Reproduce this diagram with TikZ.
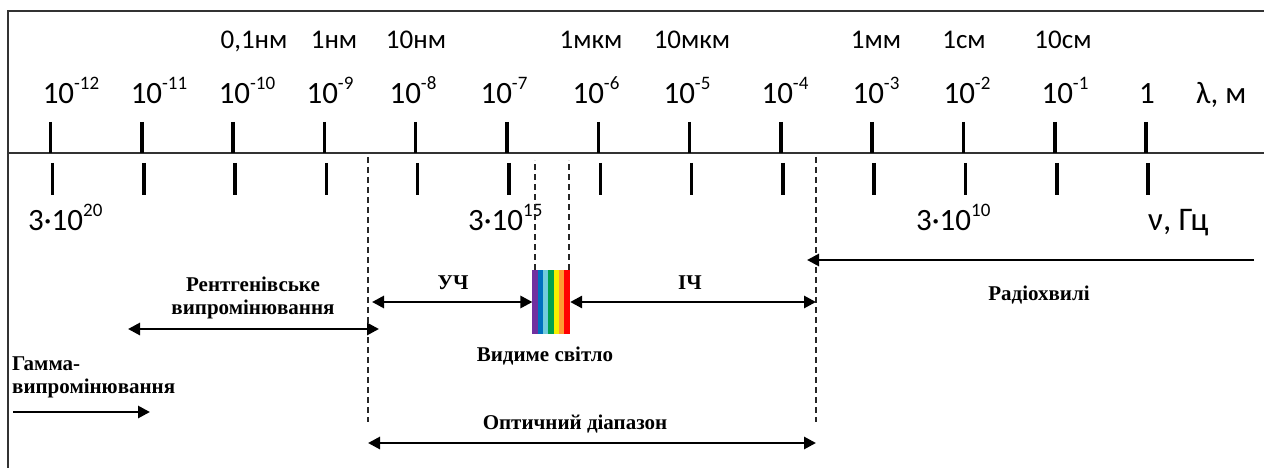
\documentclass[tikz,border=0pt]{standalone}
\usepackage{fontspec}
\setmainfont{Liberation Serif}
\newfontfamily\calfont{Carlito}
\usetikzlibrary{arrows.meta}
\definecolor{spViolet}{HTML}{7030A0}
\definecolor{spBlue}{HTML}{0070C0}
\definecolor{spCyan}{HTML}{70CCDD}
\definecolor{spGreen}{HTML}{00A050}
\definecolor{spYellow}{HTML}{F5F000}
\definecolor{spOrange}{HTML}{FF9933}
\definecolor{spRed}{HTML}{FF0000}
\newcommand\pw[1]{\raisebox{14pt}{\fontsize{19}{19}\selectfont#1}}

\begin{document}
\begin{tikzpicture}[x=1pt, y=-1pt,
  frame/.style={line width=2pt, black!80},
  tickmark/.style={line width=3.5pt},
  guide/.style={line width=2pt, dash pattern=on 6pt off 4pt, black!85},
  oneway/.style={line width=2.8pt, -{Triangle[length=12pt,width=12pt]}},
  twoway/.style={line width=2.8pt, {Triangle[length=12pt,width=12pt]}-{Triangle[length=12pt,width=12pt]}},
  num/.style={font=\calfont\fontsize{31}{31}\selectfont, anchor=base, inner sep=0pt},
  unit/.style={font=\calfont\fontsize{27}{27}\selectfont, anchor=base, inner sep=0pt},
  band/.style={font=\bfseries\fontsize{21}{23}\selectfont, align=center, inner sep=0pt, anchor=base}]
\useasboundingbox (0,0) rectangle (1264,468);

% frame and axis
\draw[frame] (8,468) -- (8,11) -- (1264,11);
\draw[frame] (8,153) -- (1264,153);

\foreach \i in {0,...,12} {
  \draw[tickmark] ({50.5+91.3*\i},122) -- ++(0,31);
  \draw[tickmark] ({52.5+91.3*\i},163) -- ++(0,32);
}

% wavelength scale
\foreach \x/\e [count=\k] in {71/-12, 159/-11, 247/-10, 330/-9, 413/-8, 504/-7,
    596/-6, 687/-5, 785/-4, 876/-3, 967/-2, 1065/-1}
  \node[num] (lam\k) at (\x,104) {10\pw{\e}};
\node[num] (lam13) at (1147,104) {1};
\node[num, anchor=base west] (lamunit) at (1196,104) {λ, м};

\foreach \x/\t [count=\k] in {254/{0,1нм}, 334/1нм, 416/10нм, 591/1мкм, 692/10мкм,
    876/1мм, 964/1см, 1063/10см}
  \node[unit] (len\k) at (\x,49) {\t};

% frequency scale
\node[num, anchor=base west] (nu20) at (28,230) {3·10\pw{20}};
\node[num, anchor=base west] (nu15) at (468,230) {3·10\pw{15}};
\node[num, anchor=base west] (nu10) at (916,230) {3·10\pw{10}};
\node[num, anchor=base west, font=\calfont\fontsize{33}{33}\selectfont] (nuunit) at (1148,230) {ν, Гц};

% visible band
\node[minimum width=37.3pt, minimum height=64pt, inner sep=0pt] (vis) at (551.3,302) {};
\foreach \c [count=\k from 0] in {spViolet, spBlue, spCyan, spGreen, spYellow, spOrange, spRed}
  \fill[\c] ([xshift=\k*5.33pt]vis.south west) rectangle ++(5.33,-64);

\coordinate (optL) at (368,443);
\coordinate (optR) at (816,443);
\draw[guide] (368,157) -- (368,422);
\draw[guide] (816,157) -- (816,422);
\draw[guide] ([xshift=2.5pt]vis.north west) -- ++(0,-110);
\draw[guide] ([xshift=-1.5pt]vis.north east) -- ++(0,-110);

% ranges
\coordinate (radR) at (1254,260);
\coordinate (radL) at (807,260);
\draw[oneway] (radR) -- (radL);
\node[band] (radio) at (1039,300) {Радіохвилі};

\coordinate (uvL) at (372,302);
\coordinate (irR) at (816,302);
\draw[twoway] (uvL) -- (vis.west);
\draw[twoway] (vis.east) -- (irR);
\node[band] (uv) at (453,289) {УЧ};
\node[band] (ir) at (690,289) {ІЧ};
\node[band] (vislbl) at (545,361) {Видиме світло};

\coordinate (xrL) at (128,329);
\coordinate (xrR) at (379,329);
\draw[twoway] (xrL) -- (xrR);
\node[band] (xray) at (253,314) {Рентгенівське\\випромінювання};

\coordinate (gaL) at (13,412);
\coordinate (gaR) at (150,412);
\draw[oneway] (gaL) -- (gaR);
\node[band, align=left, anchor=base west] (gamma) at (12,393) {Гамма-\\випромінювання};

\draw[twoway] (optL) -- (optR);
\node[band] (optic) at (575,429) {Оптичний діапазон};
\end{tikzpicture}
\end{document}
